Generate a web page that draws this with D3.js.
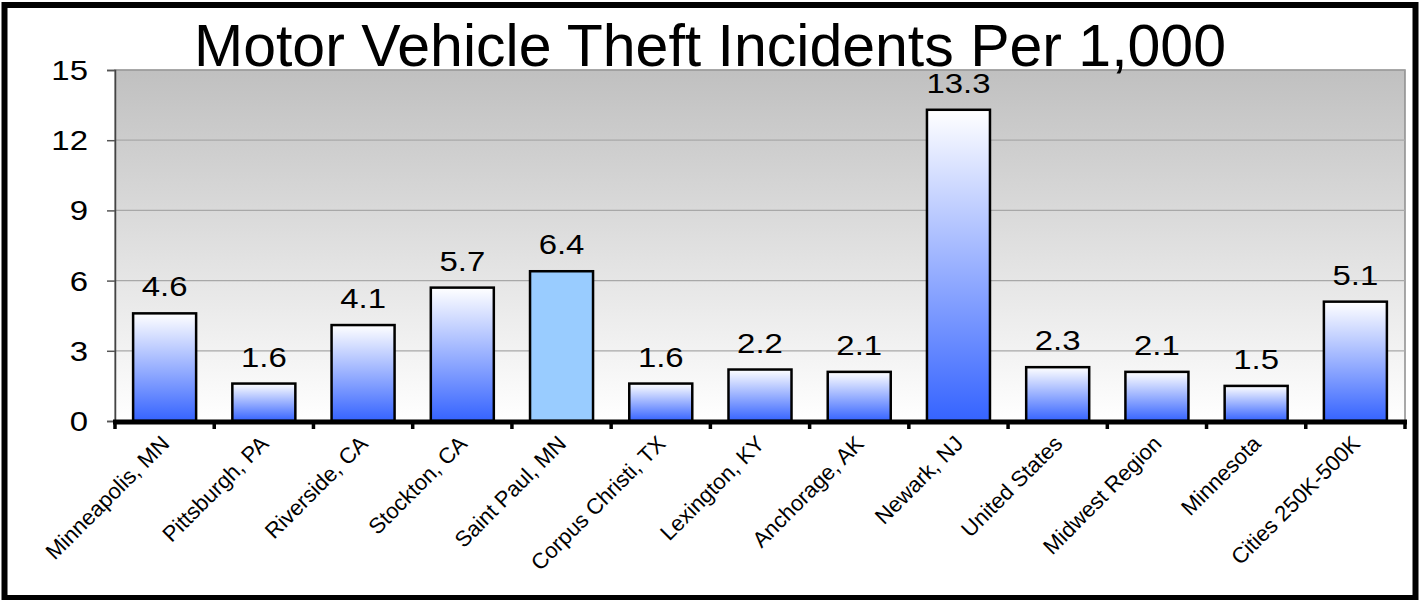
<!DOCTYPE html>
<html>
<head>
<meta charset="utf-8">
<script src="https://cdn.jsdelivr.net/npm/d3@7"></script>
<style>
  html, body { margin: 0; padding: 0; background: #fff; }
  svg { display: block; font-family: "Liberation Sans", Arial, Helvetica, sans-serif; }
</style>
</head>
<body>
<svg id="chart" width="1424" height="600"></svg>
<script>
// Motor vehicle theft incidents per 1,000 residents
const categories = [
  "Minneapolis, MN", "Pittsburgh, PA", "Riverside, CA", "Stockton, CA",
  "Saint Paul, MN", "Corpus Christi, TX", "Lexington, KY", "Anchorage, AK",
  "Newark, NJ", "United States", "Midwest Region", "Minnesota", "Cities 250K-500K"
];
const values = [4.6, 1.6, 4.1, 5.7, 6.4, 1.6, 2.2, 2.1, 13.3, 2.3, 2.1, 1.5, 5.1];
const highlighted = ["Saint Paul, MN"];
const yTicks = [0, 3, 6, 9, 12, 15];
const titleText = "Motor Vehicle Theft Incidents Per 1,000";

const W = 1424, H = 600;
const plot = { left: 115, right: 1405, top: 70, bottom: 421 };
const numStretch = 1.22;   // numbers are set slightly wide

const svg = d3.select("#chart");
const defs = svg.append("defs");

// plot background: grey at the top fading to white
const bg = defs.append("linearGradient").attr("id", "bgGrad")
  .attr("x1", 0).attr("y1", 0).attr("x2", 0).attr("y2", 1);
bg.append("stop").attr("offset", "0%").attr("stop-color", "#c0c0c0");
bg.append("stop").attr("offset", "100%").attr("stop-color", "#ffffff");

// bar fill: white at the top to blue at the base
const bar = defs.append("linearGradient").attr("id", "barGrad")
  .attr("x1", 0).attr("y1", 0).attr("x2", 0).attr("y2", 1);
bar.append("stop").attr("offset", "0%").attr("stop-color", "#ffffff");
bar.append("stop").attr("offset", "100%").attr("stop-color", "#3563ff");

svg.append("rect").attr("width", W).attr("height", H).attr("fill", "#fff");

const x = d3.scaleBand().domain(categories)
  .range([plot.left, plot.right]).paddingInner(0.365).paddingOuter(0.1825);
const xEdges = d3.scalePoint().domain(d3.range(categories.length + 1))
  .range([plot.left, plot.right]);
const y = d3.scaleLinear().domain([0, 15]).range([plot.bottom, plot.top]);

// plot area
svg.append("rect")
  .attr("x", plot.left).attr("y", plot.top)
  .attr("width", plot.right - plot.left).attr("height", plot.bottom - plot.top)
  .attr("fill", "url(#bgGrad)")
  .attr("stroke", "#8c8c8c").attr("stroke-width", 1.5);

// horizontal gridlines
svg.append("g").selectAll("line")
  .data(yTicks.filter(t => t > 0))
  .join("line")
  .attr("x1", plot.left).attr("x2", plot.right)
  .attr("y1", d => y(d)).attr("y2", d => y(d))
  .attr("stroke", "#a8a8a8").attr("stroke-width", 1.2);

// y axis (line and ticks), labels drawn separately below
const yAxis = svg.append("g")
  .attr("transform", `translate(${plot.left},0)`)
  .call(d3.axisLeft(y).tickValues(yTicks).tickSize(8).tickFormat(""));
yAxis.select(".domain").attr("stroke", "#444").attr("stroke-width", 1.5);
yAxis.selectAll(".tick line").attr("stroke", "#555").attr("stroke-width", 1.5);

svg.append("g").selectAll("text")
  .data(yTicks)
  .join("text")
  .attr("transform", d => `translate(88,${y(d) + 10}) scale(${numStretch},1)`)
  .attr("text-anchor", "end")
  .attr("font-size", 27)
  .text(d3.format("d"));

// bars
svg.append("g").selectAll("rect")
  .data(categories)
  .join("rect")
  .attr("x", d => x(d))
  .attr("y", (d, i) => y(values[i]))
  .attr("width", x.bandwidth())
  .attr("height", (d, i) => y(0) - y(values[i]))
  .attr("fill", d => highlighted.includes(d) ? "#99ccff" : "url(#barGrad)")
  .attr("stroke", "#000").attr("stroke-width", 2.5);

// value labels
svg.append("g").selectAll("text")
  .data(categories)
  .join("text")
  .attr("transform", (d, i) =>
    `translate(${x(d) + x.bandwidth() / 2},${y(values[i]) - 17}) scale(${numStretch},1)`)
  .attr("text-anchor", "middle")
  .attr("font-size", 27)
  .text((d, i) => values[i].toFixed(1));

// x axis line with ticks on category boundaries
svg.append("line")
  .attr("x1", plot.left - 2).attr("x2", plot.right + 2)
  .attr("y1", plot.bottom + 1).attr("y2", plot.bottom + 1)
  .attr("stroke", "#000").attr("stroke-width", 5);
svg.append("g").selectAll("line")
  .data(xEdges.domain())
  .join("line")
  .attr("x1", d => xEdges(d)).attr("x2", d => xEdges(d))
  .attr("y1", plot.bottom).attr("y2", plot.bottom + 8)
  .attr("stroke", "#000").attr("stroke-width", 3.5);

// rotated category labels
svg.append("g").selectAll("text")
  .data(categories)
  .join("text")
  .attr("transform", d => `translate(${x(d) + x.bandwidth() / 2 + 6},${plot.bottom + 24}) rotate(-45)`)
  .attr("text-anchor", "end")
  .attr("font-size", 22)
  .text(d => d);

// title
svg.append("text")
  .attr("x", 710).attr("y", 66)
  .attr("text-anchor", "middle")
  .attr("font-size", 59)
  .text(titleText);

// outer frame
svg.append("rect")
  .attr("x", 4.5).attr("y", 5)
  .attr("width", 1411).attr("height", 593)
  .attr("fill", "none").attr("stroke", "#000").attr("stroke-width", 6);
</script>
</body>
</html>
